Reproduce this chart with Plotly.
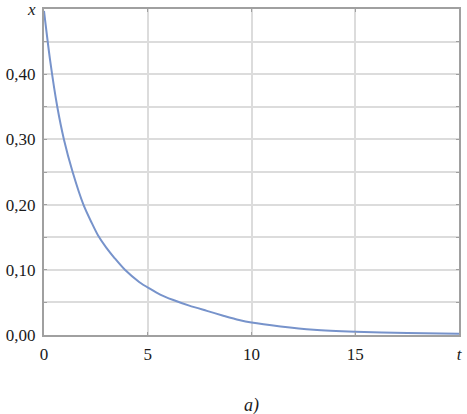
import plotly.graph_objects as go

# Data
t_values = [0, 0.3, 0.64, 0.96, 1.38, 1.9, 2.3, 2.6, 3.0, 3.4, 3.9, 4.6, 5.1, 5.6, 6.2, 7.0,
            7.85, 8.6, 9.4, 10.0, 11.4, 13, 15, 17.5, 20]
x_values = [0.497, 0.42, 0.35, 0.30, 0.25, 0.20, 0.172, 0.153, 0.134, 0.118, 0.10, 0.081, 0.071,
            0.062, 0.054, 0.045, 0.037, 0.030, 0.023, 0.019, 0.013, 0.008, 0.005, 0.003, 0.002]

x_tickvals = [0, 5, 10, 15, 20]
x_ticktext = ["0", "5", "10", "15", "<i>t</i>"]
y_tickvals = [0, 0.1, 0.2, 0.3, 0.4, 0.5]
y_ticktext = ["0,00", "0,10", "0,20", "0,30", "0,40", "<i>x</i>"]
caption = "<i>a)</i>"

fig = go.Figure()
fig.add_trace(go.Scatter(
    x=t_values, y=x_values, mode="lines",
    line=dict(color="#7793cb", width=2, shape="spline", smoothing=0.8),
    showlegend=False, hoverinfo="skip",
))

grid = "#dcdcdc"
frame = "#a0a0a0"
serif = "Liberation Serif"
font = dict(family=serif, size=17, color="#1a1a1a")

fig.update_xaxes(
    range=[0, 20], tickvals=x_tickvals, ticktext=x_ticktext,
    showgrid=True, gridcolor=grid, gridwidth=1.5,
    showline=True, linecolor=frame, linewidth=2, mirror="ticks",
    ticks="inside", ticklen=3, tickcolor=frame,
    zeroline=False, tickfont=font, ticklabelstandoff=3, automargin=False,
    ticklabeloverflow="allow",
)
fig.update_yaxes(
    range=[0, 0.5], tickvals=y_tickvals, ticktext=y_ticktext,
    showgrid=True, gridcolor=grid, gridwidth=1.5,
    minor=dict(dtick=0.05, tick0=0, showgrid=True, gridcolor=grid, gridwidth=1.5,
               ticks="inside", ticklen=3, tickcolor=frame),
    showline=True, linecolor=frame, linewidth=2, mirror="ticks",
    ticks="inside", ticklen=3, tickcolor=frame,
    zeroline=False, tickfont=font, ticklabelstandoff=3, automargin=False,
    ticklabeloverflow="allow",
)

fig.add_annotation(
    text=caption, xref="paper", yref="paper", x=0.5, y=-0.215,
    showarrow=False, font=dict(family=serif, size=18, color="#1a1a1a"),
    xanchor="center", yanchor="middle",
)

fig.update_layout(
    width=467, height=414,
    margin=dict(l=44, r=8, t=9, b=79),
    paper_bgcolor="white", plot_bgcolor="white",
)

# remove the default page margin so the 467x414 figure fills the window exactly
fig.write_html(
    "out.html",
    config={"displayModeBar": False},
    post_script="document.body.style.margin='0';document.body.style.overflow='hidden';",
)
